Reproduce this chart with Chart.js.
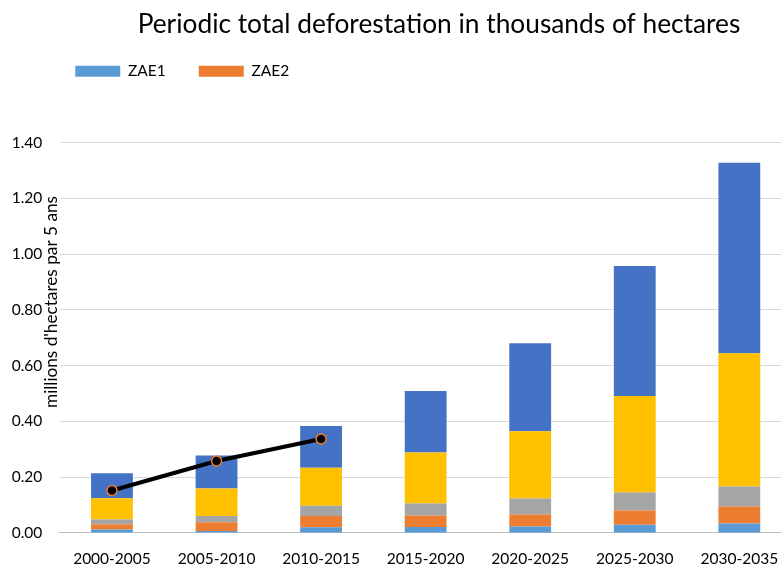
<!DOCTYPE html>
<html lang="en">
<head>
<meta charset="utf-8">
<title>Periodic total deforestation</title>
<script src="https://cdn.jsdelivr.net/npm/chart.js@4.4.1/dist/chart.umd.min.js"></script>
<style>
  html, body { margin: 0; padding: 0; background: #fff; overflow: hidden; }
  #contenedor { position: relative; width: 800px; height: 572px; }
</style>
</head>
<body>
<div id="contenedor"><canvas id="grafico"></canvas></div>
<script>
// Datos (millions d'hectares par 5 ans)
const periodos = ['2000-2005', '2005-2010', '2010-2015', '2015-2020', '2020-2025', '2025-2030', '2030-2035'];
const zae1 = [0.012, 0.007, 0.020, 0.021, 0.023, 0.029, 0.034];
const zae2 = [0.019, 0.031, 0.041, 0.041, 0.043, 0.051, 0.061];
const zae3 = [0.017, 0.023, 0.036, 0.043, 0.057, 0.065, 0.071];
const zae4 = [0.076, 0.098, 0.137, 0.183, 0.242, 0.346, 0.478];
const zae5 = [0.090, 0.119, 0.149, 0.221, 0.315, 0.466, 0.684];
const observado = [0.152, 0.258, 0.337, null, null, null, null];
const ticksY = [0, 0.2, 0.4, 0.6, 0.8, 1.0, 1.2, 1.4];

const titulo = 'Periodic total deforestation in thousands of hectares';
const tituloY = "millions d'hectares par 5 ans";

Chart.defaults.font.family = 'Lato';
Chart.defaults.color = '#000';

// Título principal, título del eje Y y desplazamiento de la leyenda
const textos = {
  id: 'textos',
  afterLayout(chart) {
    chart.legend.left = 42.25;  // la leyenda empieza más a la derecha que el eje
  },
  afterDraw(chart) {
    const ctx = chart.ctx;
    ctx.save();
    ctx.fillStyle = '#000';
    ctx.textAlign = 'center';
    ctx.textBaseline = 'alphabetic';
    ctx.font = '26.3px Lato';
    ctx.fillText(titulo, 439, 33);

    ctx.translate(51, 302);
    ctx.rotate(-Math.PI / 2);
    ctx.textBaseline = 'middle';
    ctx.font = '17.2px Lato';
    ctx.fillText(tituloY, 0, 0);
    ctx.restore();
  }
};

const barra = (label, data, color) => ({
  type: 'bar',
  label: label,
  data: data,
  backgroundColor: color,
  borderWidth: 0,
  stack: 'zae',
  order: 1,
  barPercentage: 0.4,
  categoryPercentage: 1
});

new Chart(document.getElementById('grafico'), {
  data: {
    labels: periodos,
    datasets: [
      {
        type: 'line',
        label: 'Observé',
        data: observado,
        borderColor: '#000',
        borderWidth: 4,
        pointRadius: 5,
        pointBackgroundColor: '#000',
        pointBorderColor: '#ED7D31',
        pointBorderWidth: 1.5,
        stack: 'linea',
        order: 0
      },
      barra('ZAE1', zae1, '#5B9BD5'),
      barra('ZAE2', zae2, '#ED7D31'),
      barra('ZAE3', zae3, '#A5A5A5'),
      barra('ZAE4', zae4, '#FFC000'),
      barra('ZAE5', zae5, '#4472C4')
    ]
  },
  options: {
    responsive: true,
    maintainAspectRatio: false,
    animation: false,
    layout: { padding: { left: 0, top: 30.55, right: 8.4, bottom: 4.2 } },
    plugins: {
      title: { display: false },
      // hueco entre la leyenda y el área del gráfico
      subtitle: { display: true, text: '', weight: 0, font: { size: 10 }, padding: { top: 0, bottom: 41.5 } },
      legend: {
        position: 'top',
        align: 'start',
        labels: {
          boxWidth: 45,
          boxHeight: 11,
          padding: 33,
          font: { size: 15.5 },
          color: '#000',
          filter: item => item.text === 'ZAE1' || item.text === 'ZAE2'
        }
      },
      tooltip: { enabled: false }
    },
    scales: {
      x: {
        stacked: true,
        afterFit: s => { s.height = 34.9; },
        grid: { display: false, drawTicks: false },
        border: { display: true, color: '#bfbfbf', width: 1 },
        ticks: { padding: 16.3, font: { size: 15.5 }, color: '#000' }
      },
      y: {
        stacked: true,
        min: 0,
        max: 1.4,
        afterBuildTicks: s => { s.ticks = ticksY.map(v => ({ value: v })); },
        afterFit: s => { s.width = 59.7; },
        grid: { color: c => (c.tick && c.tick.value === 0) ? 'transparent' : '#d9d9d9', drawTicks: false },
        border: { display: false },
        ticks: { padding: 17.4, font: { size: 15.5 }, color: '#000', callback: v => v.toFixed(2) }
      }
    }
  },
  plugins: [textos]
});
</script>
</body>
</html>
